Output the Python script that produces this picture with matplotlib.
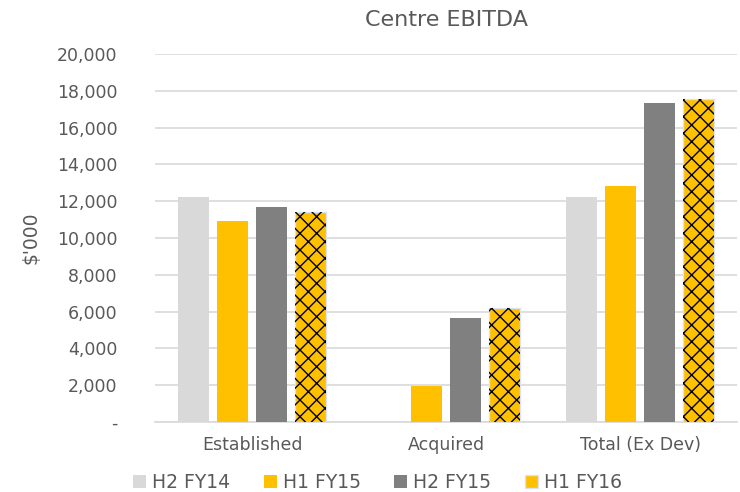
import numpy as np
import matplotlib
matplotlib.use('Agg')
import matplotlib.pyplot as plt
import matplotlib.ticker as ticker

plt.rcParams['font.family'] = ['DejaVu Sans']
plt.rcParams['hatch.linewidth'] = 1.0

categories = ["Established", "Acquired", "Total (Ex Dev)"]
series_names = ["H2 FY14", "H1 FY15", "H2 FY15", "H1 FY16"]
h2_fy14 = [12250, 0, 12250]
h1_fy15 = [10950, 1950, 12850]
h2_fy15 = [11700, 5680, 17350]
h1_fy16 = [11420, 6180, 17550]

TEXT = "#595959"
GRID = "#D9D9D9"
COLORS = ["#D9D9D9", "#FFC000", "#808080", "#FFC000"]

fig = plt.figure(figsize=(7.4, 4.92), dpi=100)
ax = fig.add_axes([0.2095, 0.1423, 0.7865, 0.7477])

x = np.arange(len(categories))
width = 0.16
step = 0.2
all_series = [h2_fy14, h1_fy15, h2_fy15, h1_fy16]
handles = []
for i, (name, vals) in enumerate(zip(series_names, all_series)):
    pos = x + (i - 1.5) * step
    if i == 3:
        b = ax.bar(pos, vals, width, color=COLORS[i], edgecolor="#DAE3F3",
                   linewidth=1.0, zorder=3, label=name)
        ax.bar(pos, vals, width, facecolor="none", edgecolor="black",
               hatch="xx", linewidth=0, zorder=4)
    else:
        b = ax.bar(pos, vals, width, color=COLORS[i], linewidth=0,
                   zorder=3, label=name)
    handles.append(b)

ax.set_xlim(-0.5, 2.5)
ax.set_ylim(0, 20000)
ax.yaxis.set_major_locator(ticker.MultipleLocator(2000))
ax.yaxis.set_major_formatter(ticker.FuncFormatter(
    lambda v, p: "-" if v == 0 else f"{int(v):,}"))
ax.set_xticks(x)
ax.set_xticklabels(categories)
ax.grid(axis='y', color=GRID, linewidth=1.2, zorder=0)
for s in ['top', 'right', 'left']:
    ax.spines[s].set_visible(False)
ax.spines['bottom'].set_color(GRID)
ax.spines['bottom'].set_linewidth(1.2)
ax.tick_params(axis='both', length=0, colors=TEXT, labelsize=12.5)
ax.tick_params(axis='y', pad=27)
ax.tick_params(axis='x', pad=10)

ax.set_ylabel("$'000", color=TEXT, fontsize=13.5, labelpad=12)
ax.set_title("Centre EBITDA", color=TEXT, fontsize=16, pad=20)

leg = fig.legend(handles=handles, labels=series_names, loc='lower center',
                 bbox_to_anchor=(0.51, -0.035), ncol=4, frameon=False,
                 fontsize=13.5, handlelength=0.7, handleheight=0.7,
                 handletextpad=0.3, columnspacing=1.8, labelcolor=TEXT)

fig.savefig("out.png", dpi=100)
